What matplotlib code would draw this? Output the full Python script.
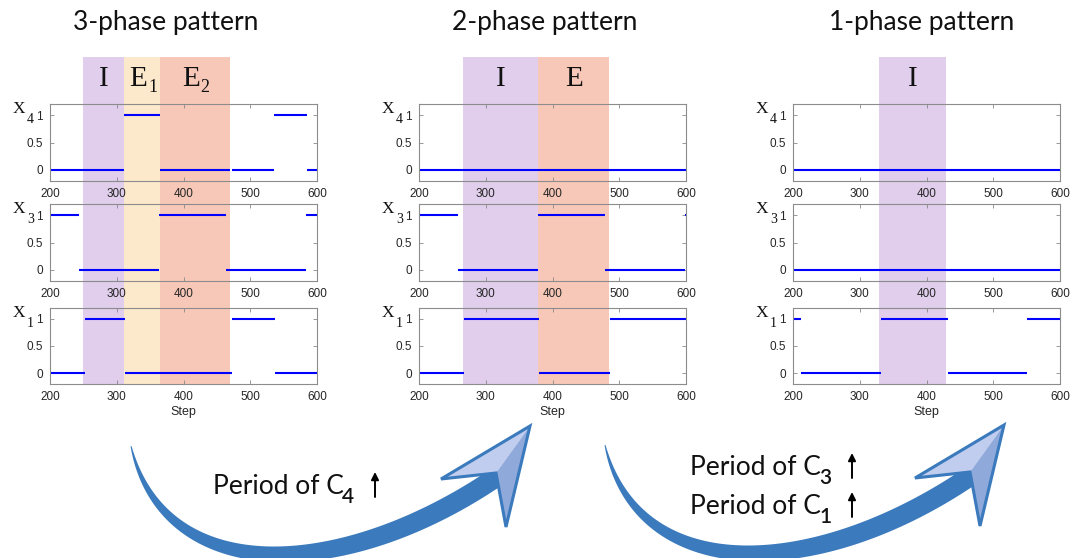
"""Phase patterns of X1/X3/X4 with transition arrows."""
import matplotlib
matplotlib.use("Agg")
import matplotlib.pyplot as plt
import numpy as np
from matplotlib.patches import Polygon

plt.rcParams["font.family"] = ["Liberation Sans", "DejaVu Sans"]

XTICKS = [200, 300, 400, 500, 600]
YTICKS = [0, 0.5, 1]
YTICKLABELS = ["0", "0.5", "1"]
VARS = [("X", "4"), ("X", "3"), ("X", "1")]

# segments as (start step, end step, level)
X4_3PH = [(200, 311, 0), (311, 365, 1), (365, 469, 0), (473, 535, 0), (535, 585, 1), (585, 600, 0)]
X3_3PH = [(200, 243, 1), (243, 363, 0), (363, 463, 1), (463, 583, 0), (583, 600, 1)]
X1_3PH = [(200, 252, 0), (252, 313, 1), (313, 472, 0), (473, 537, 1), (537, 600, 0)]

X4_2PH = [(200, 600, 0)]
X3_2PH = [(200, 258, 1), (258, 379, 0), (379, 478, 1), (478, 598, 0), (598, 600, 1)]
X1_2PH = [(200, 267, 0), (267, 380, 1), (380, 486, 0), (486, 600, 1)]

X4_1PH = [(200, 600, 0)]
X3_1PH = [(200, 600, 0)]
X1_1PH = [(200, 212, 1), (212, 332, 0), (332, 432, 1), (432, 551, 0), (551, 600, 1)]

# phase bands as (name, start step, end step)
BANDS_3PH = [("I", 250, 311), ("E1", 311, 365), ("E2", 365, 469)]
BANDS_2PH = [("I", 266, 379), ("E", 379, 485)]
BANDS_1PH = [("I", 329, 429)]

TITLES = ["3-phase pattern", "2-phase pattern", "1-phase pattern"]
ARROW_TEXTS = [[("Period of C", "4")], [("Period of C", "3"), ("Period of C", "1")]]

# styling
PHASE_COLORS = {"I": "#E0CEEC", "E1": "#FCE8CB", "E2": "#F7C8B8", "E": "#F7C8B8"}
LINE_BLUE = "#0000FF"
ARROW_BLUE = "#3A7ABD"
HEAD_LIGHT = "#C0CDEE"
HEAD_DARK = "#8FA9DA"
INK = "#111111"
SERIF = "Liberation Serif"
SANS = "Lato"

W, H = 1080, 558
PANEL_LEFT = [50, 419, 793]
PANEL_W = 267
TITLE_X = [166, 545, 922]
ROWS = [(104, 181), (204, 281), (308, 384)]
BAND_TOP, BAND_BOT = 57, 384


def px_rect(x0, y0, x1, y1):
    return [x0 / W, 1 - y1 / H, (x1 - x0) / W, (y1 - y0) / H]


def bezier(ctrl, t):
    p0, p1, p2, p3 = [np.array(c, float) for c in ctrl]
    t = t[:, None]
    pts = (1 - t) ** 3 * p0 + 3 * (1 - t) ** 2 * t * p1 + 3 * (1 - t) * t ** 2 * p2 + t ** 3 * p3
    der = 3 * (1 - t) ** 2 * (p1 - p0) + 6 * (1 - t) * t * (p2 - p1) + 3 * t ** 2 * (p3 - p2)
    return pts, der


def curved_arrow(ax, ctrl, head, wmax):
    t = np.linspace(0, 1, 300)
    pts, der = bezier(ctrl, t)
    nrm = np.column_stack([-der[:, 1], der[:, 0]])
    nrm /= np.linalg.norm(nrm, axis=1, keepdims=True)
    w = wmax * np.sin(np.pi / 2 * t) ** 0.8 + 0.8
    body = np.vstack([pts + nrm * w[:, None] / 2, (pts - nrm * w[:, None] / 2)[::-1]])
    ax.add_patch(Polygon(body, closed=True, fc=ARROW_BLUE, ec="none"))
    tip, left, notch, bottom = head
    ax.add_patch(Polygon([tip, left, notch], closed=True, fc=HEAD_LIGHT, ec="none"))
    ax.add_patch(Polygon([tip, notch, bottom], closed=True, fc=HEAD_DARK, ec="none"))
    ax.add_patch(Polygon([tip, left, notch, bottom], closed=True, fill=False,
                         ec=ARROW_BLUE, lw=2.2, joinstyle="miter"))


fig = plt.figure(figsize=(W / 100, H / 100), dpi=100)
renderer = fig.canvas.get_renderer()


def sub_text(x, y, main, sub, size, sub_size, drop, family, ha="left",
             gap=1.5, sub_weight="normal"):
    """Main text with a dropped subscript; x, y in pixels from top-left (baseline)."""
    t = fig.text(x / W, 1 - y / H, main, fontsize=size, family=family, ha=ha,
                 va="baseline", color=INK)
    if not sub:
        return t
    bb = t.get_window_extent(renderer)
    fig.text((bb.x1 + gap) / W, 1 - (y + drop) / H, sub, fontsize=sub_size,
             family=family, va="baseline", color=INK, fontweight=sub_weight)
    return t


panels = [
    ([X4_3PH, X3_3PH, X1_3PH], BANDS_3PH),
    ([X4_2PH, X3_2PH, X1_2PH], BANDS_2PH),
    ([X4_1PH, X3_1PH, X1_1PH], BANDS_1PH),
]

for p, (traces, bands) in enumerate(panels):
    left = PANEL_LEFT[p]
    # shaded phase bands behind the axes
    bax = fig.add_axes(px_rect(left, BAND_TOP, left + PANEL_W, BAND_BOT), zorder=0)
    bax.set_xlim(200, 600)
    bax.set_ylim(0, 1)
    bax.set_axis_off()
    for name, s, e in bands:
        bax.axvspan(s, e, color=PHASE_COLORS[name], lw=0)
        cx = left + ((s + e) / 2 - 200) * PANEL_W / 400
        if len(name) > 1:
            sub_text(cx - 4, 86, name[0], name[1], 21, 13, 6, SERIF, ha="center", gap=1)
        else:
            sub_text(cx, 86, name, "", 21, 13, 6, SERIF, ha="center")

    fig.text(TITLE_X[p] / W, 1 - 30 / H, TITLES[p], ha="center", va="baseline",
             fontsize=19, family=SANS, color=INK)

    for r, (segs, (vmain, vsub)) in enumerate(zip(traces, VARS)):
        y0, y1 = ROWS[r]
        ax = fig.add_axes(px_rect(left, y0, left + PANEL_W, y1), zorder=1)
        ax.set_facecolor("none")
        for s, e, lev in segs:
            ax.plot([s, e], [lev, lev], color=LINE_BLUE, lw=1.5, solid_capstyle="butt")
        ax.set_xlim(200, 600)
        ax.set_ylim(-0.2, 1.2)
        ax.set_xticks(XTICKS)
        ax.set_yticks(YTICKS)
        ax.set_yticklabels(YTICKLABELS)
        ax.tick_params(direction="in", length=3, width=0.6, color="#888888",
                       labelcolor="#262626", labelsize=8.5, top=True, right=True, pad=5)
        for sp in ax.spines.values():
            sp.set_color("#8c8c8c")
            sp.set_linewidth(0.8)
        sub_text(left - 25, y0 + 9, vmain, vsub, 12.5, 10, 10, SERIF, ha="right", gap=2)
        if r == 2:
            ax.set_xlabel("Step", fontsize=9, color="#262626", labelpad=2)

# overlay for the transition arrows and their captions
ov = fig.add_axes([0, 0, 1, 1], zorder=5)
ov.set_xlim(0, W)
ov.set_ylim(H, 0)
ov.set_facecolor("none")
ov.set_axis_off()

ARROW_CTRL = [(131, 446), (163, 586), (340, 584), (498, 476)]
ARROW_HEAD = [(530, 426), (441, 479), (496, 473), (506, 527)]
SHIFT = (474, -1)
TEXT_POS = [[(213, 494)], [(690, 475), (690, 514)]]
UP_X = [375, 852]

for k in range(2):
    dx, dy = SHIFT[0] * k, SHIFT[1] * k
    ctrl = [(x + dx, y + dy) for x, y in ARROW_CTRL]
    head = [(x + dx, y + dy) for x, y in ARROW_HEAD]
    curved_arrow(ov, ctrl, head, 19)
    for (main, sub), (tx, ty) in zip(ARROW_TEXTS[k], TEXT_POS[k]):
        sub_text(tx, ty, main, sub, 19, 15, 9, SANS, gap=-1.5, sub_weight="semibold")
        ov.annotate("", xy=(UP_X[k], ty - 22), xytext=(UP_X[k], ty + 3),
                    arrowprops=dict(arrowstyle="-|>", color="black", lw=1.4,
                                    mutation_scale=11, shrinkA=0, shrinkB=0))

fig.savefig("out.png", dpi=100)
